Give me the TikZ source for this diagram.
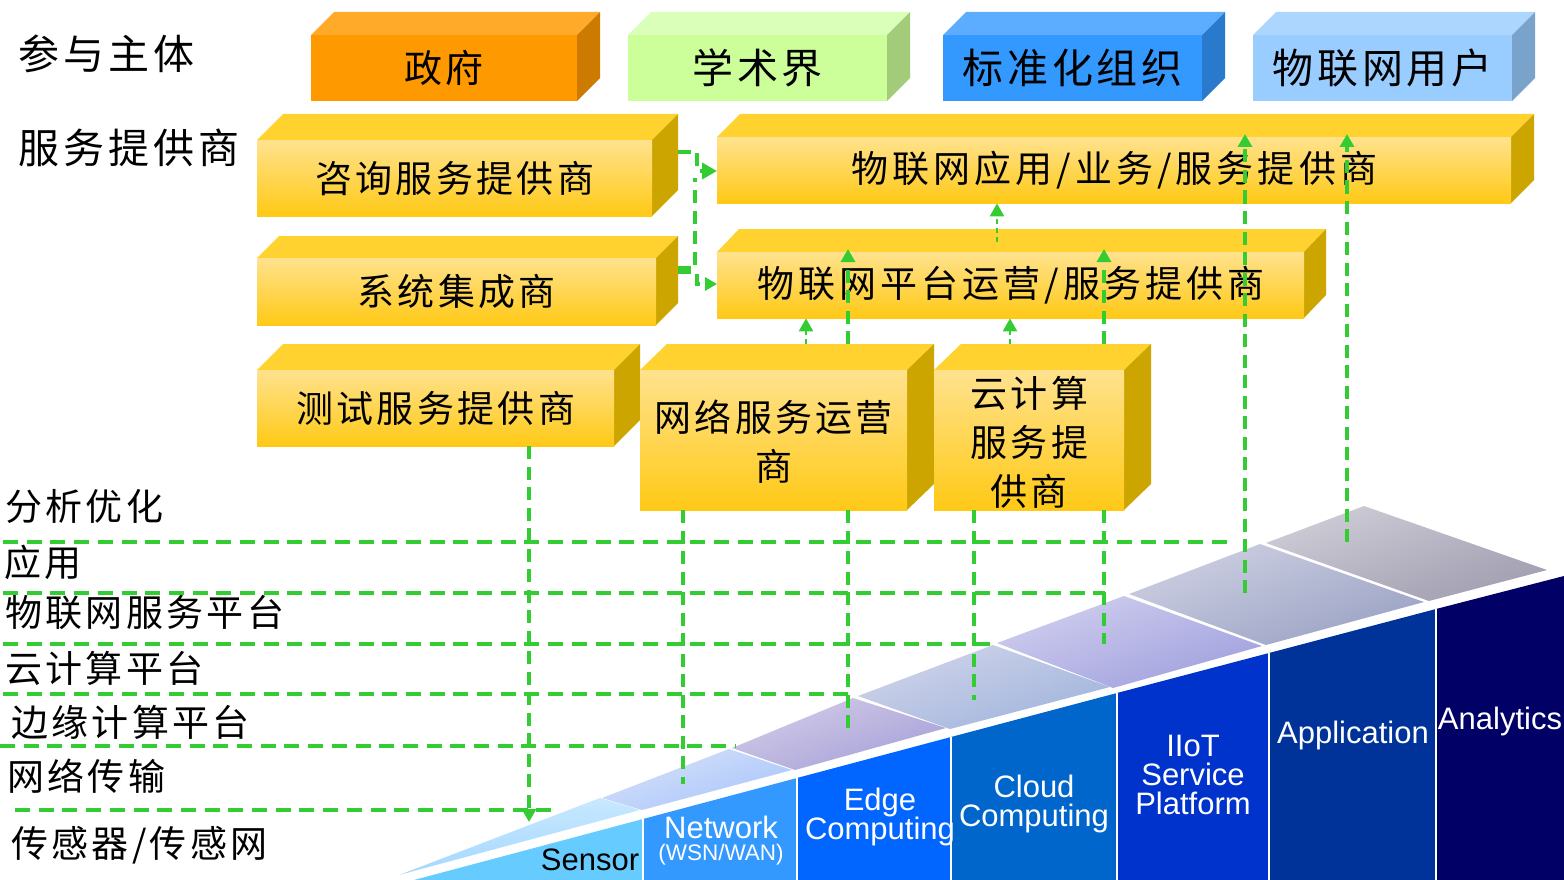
\documentclass[tikz,border=0pt]{standalone}
\usepackage{fontspec}
\usetikzlibrary{arrows.meta,calc}
\newfontfamily\cjk[LetterSpace=9]{Noto Sans CJK SC}
\newfontfamily\cjkwide[LetterSpace=10]{Noto Sans CJK SC}
\newfontfamily\cjklong[LetterSpace=11]{Noto Sans CJK SC}
\setsansfont{Liberation Sans}
\definecolor{flow}{HTML}{33CC33}
\tikzset{
  front/.style={inner sep=0pt,anchor=north west,align=center,text=black,font=\cjk\fontsize{37}{49}\selectfont},
  goldface/.style={top color=gold1,bottom color=gold2},
  longface/.style={top color=gold1,bottom color=gold2,font=\cjklong\fontsize{37}{49}\selectfont},
  rowlabel/.style={inner sep=0pt,anchor=west,font=\cjk\fontsize{37}{40}\selectfont,text=black},
  headlabel/.style={inner sep=0pt,anchor=west,font=\cjkwide\fontsize{41}{46}\selectfont,text=black},
  collabel/.style={inner sep=0pt,align=center,font=\sffamily\fontsize{31}{30}\selectfont,text=white},
  flowline/.style={draw=flow,line width=4.4pt,dash pattern=on 15pt off 8.7pt},
  riser/.style={draw=flow,line width=3.8pt,dash pattern=on 13pt off 7.5pt},
  stub/.style={draw=flow,line width=2.4pt,dash pattern=on 5pt off 4pt},
  flowtip/.style={-{Triangle[length=13pt,width=14pt]}},
  colsep/.style={draw=white,line width=1.3pt},
}
\definecolor{gold1}{HTML}{FFE28E}
\definecolor{gold2}{HTML}{FFC915}
\definecolor{goldtop}{HTML}{FFD22F}
\definecolor{goldside}{HTML}{CCA500}
% name, x1, y1, x2, y2, depth dx, depth dy, top colour, side colour, front fill style, text
\newcommand\prismbox[9]{%
  \fill[#8] (#2,#3) -- ({#2+#6},{#3-#7}) -- ({#4+#6},{#3-#7}) -- (#4,#3) -- cycle;
  \fill[#9] (#4,#3) -- ({#4+#6},{#3-#7}) -- ({#4+#6},{#5-#7}) -- (#4,#5) -- cycle;
  \coordinate (#1-top) at (#2,{#3-#7});
  \prismfront{#1}{#2}{#3}{#4}{#5}}
\newcommand\prismfront[7]{%
  \node[front,#6,minimum width={(#4-#2)*1pt},minimum height={(#5-#3)*1pt}] (#1) at (#2,#3) {#7};}
\begin{document}
\begin{tikzpicture}[x=1pt,y=-1pt]
\useasboundingbox (0,0) rectangle (1564,880);
\fill[white] (0,0) rectangle (1564,880);
\begin{scope}
\clip (0,0) rectangle (1564,880);
% perspective floor
\shade[top color={rgb,255:red,200;green,232;blue,255},bottom color={rgb,255:red,165;green,216;blue,255}] (399,875) -- (600,798) -- (640,810) -- cycle;
\shade[top color={rgb,255:red,214;green,224;blue,250},bottom color={rgb,255:red,168;green,198;blue,250},shading angle=20] (602,798) -- (729,749) -- (792,770) -- (642,810) -- cycle;
\shade[top color={rgb,255:red,212;green,204;blue,232},bottom color={rgb,255:red,164;green,160;blue,216},shading angle=20] (732,748) -- (853,698) -- (946,728) -- (795,770) -- cycle;
\shade[top color={rgb,255:red,208;green,212;blue,234},bottom color={rgb,255:red,160;green,180;blue,220},shading angle=20] (858,696) -- (993,645) -- (1110,687) -- (950,729) -- cycle;
\shade[top color={rgb,255:red,208;green,206;blue,238},bottom color={rgb,255:red,160;green,160;blue,222},shading angle=20] (997,643) -- (1124,596) -- (1262,646) -- (1113,688) -- cycle;
\shade[top color={rgb,255:red,206;green,208;blue,226},bottom color={rgb,255:red,154;green,162;blue,196},shading angle=20] (1129,594) -- (1260,544) -- (1424,602) -- (1266,645) -- cycle;
\shade[top color={rgb,255:red,206;green,204;blue,214},bottom color={rgb,255:red,160;green,158;blue,176},shading angle=20] (1266,543) -- (1364,506) -- (1547,570) -- (1429,601) -- cycle;
% columns
\fill[fill={rgb,255:red,102;green,204;blue,255}] (414,880) -- (643,819) -- (643,880) -- cycle;
\fill[fill={rgb,255:red,51;green,153;blue,255}] (643,819) -- (797,778) -- (797,880) -- (643,880) -- cycle;
\fill[fill={rgb,255:red,0;green,102;blue,255}] (797,778) -- (951,737) -- (951,880) -- (797,880) -- cycle;
\fill[fill={rgb,255:red,0;green,102;blue,204}] (951,737) -- (1117,693) -- (1117,880) -- (951,880) -- cycle;
\fill[fill={rgb,255:red,0;green,51;blue,204}] (1117,693) -- (1269,653) -- (1269,880) -- (1117,880) -- cycle;
\fill[fill={rgb,255:red,0;green,51;blue,153}] (1269,653) -- (1436,609) -- (1436,880) -- (1269,880) -- cycle;
\fill[fill={rgb,255:red,0;green,0;blue,102}] (1436,609) -- (1564,576) -- (1564,880) -- (1436,880) -- cycle;
\draw[colsep] (643,819) -- (643,880);
\draw[colsep] (797,778) -- (797,880);
\draw[colsep] (951,737) -- (951,880);
\draw[colsep] (1117,693) -- (1117,880);
\draw[colsep] (1269,653) -- (1269,880);
\draw[colsep] (1436,609) -- (1436,880);
\end{scope}
% column labels
\node[collabel,text=black] (lsensor) at (590,860) {Sensor};
\node[collabel] (lnet) at (721,827) {Network};
\node[collabel,font=\sffamily\fontsize{22.5}{22}\selectfont] (lwsn) at (721,855) {(WSN/WAN)};
\node[collabel] (ledge) at (880,817) {Edge\\[-1pt]Computing};
\node[collabel] (lcloud) at (1034,804) {Cloud\\[-1pt]Computing};
\node[collabel] (liiot) at (1193,775) {IIoT\\[-1pt]Service\\[-1pt]Platform};
\node[collabel] (lapp) at (1353,735) {Application};
\node[collabel] (lana) at (1500,721) {Analytics};
% row labels
\node[headlabel] (hplay) at (18,54) {参与主体};
\node[headlabel] (hprov) at (18,148) {服务提供商};
\node[rowlabel] (ropt) at (5,506) {分析优化};
\node[rowlabel] (rapp) at (4,562) {应用};
\node[rowlabel] (rsvc) at (5,613) {物联网服务平台};
\node[rowlabel] (rcld) at (5,668) {云计算平台};
\node[rowlabel] (redge) at (11,722) {边缘计算平台};
\node[rowlabel] (rnet) at (7,776) {网络传输};
\node[rowlabel] (rsens) at (11,845) {传感器/传感网};
% top row
\prismbox{gov}{311}{35}{577}{101}{23}{23}{fill={rgb,255:red,255;green,170;blue,40}}{fill={rgb,255:red,204;green,122;blue,0}}{fill={rgb,255:red,255;green,153;blue,0},font=\cjk\fontsize{38}{46}\selectfont}{政府}
\prismbox{acad}{628}{35}{887}{101}{23}{23}{fill={rgb,255:red,218;green,255;blue,184}}{fill={rgb,255:red,163;green,204;blue,122}}{fill={rgb,255:red,204;green,255;blue,153},font=\cjk\fontsize{41}{46}\selectfont}{学术界}
\prismbox{std}{943}{35}{1202}{101}{23}{23}{fill={rgb,255:red,92;green,173;blue,255}}{fill={rgb,255:red,41;green,122;blue,204}}{fill={rgb,255:red,51;green,153;blue,255},font=\cjk\fontsize{41}{46}\selectfont}{标准化组织}
\prismbox{users}{1253}{35}{1512}{101}{23}{23}{fill={rgb,255:red,173;green,214;blue,255}}{fill={rgb,255:red,122;green,163;blue,204}}{fill={rgb,255:red,153;green,204;blue,255},font=\cjk\fontsize{41}{46}\selectfont}{物联网用户}
% providers
\prismbox{consult}{257}{140}{652}{216}{26}{26}{goldtop}{goldside}{goldface}{咨询服务提供商}
\prismbox{app}{717}{137}{1511}{203}{23}{23}{goldtop}{goldside}{longface}{物联网应用/业务/服务提供商}
\prismbox{integ}{257}{258}{656}{325}{22}{22}{goldtop}{goldside}{goldface}{系统集成商}
\prismbox{plat}{717}{252}{1304}{318}{22}{23}{goldtop}{goldside}{longface}{物联网平台运营/服务提供商}
\prismbox{test}{257}{370}{614}{446}{26}{26}{goldtop}{goldside}{goldface}{测试服务提供商}
\prismbox{netsvc}{640}{370}{907}{510}{27}{26}{goldtop}{goldside}{goldface}{\rule{0pt}{35pt}网络服务运营\\商}
\prismbox{cloudsvc}{934}{370}{1124}{510}{27}{26}{goldtop}{goldside}{goldface}{\rule{0pt}{35pt}云计算\\服务提\\供商}
% free ends
\coordinate (h1l) at (3,542); \coordinate (h1r) at (1227,542);
\coordinate (h2l) at (3,593); \coordinate (h2r) at (1105,593);
\coordinate (h3l) at (3,644); \coordinate (h3r) at (990,644);
\coordinate (h4l) at (3,694); \coordinate (h4r) at (848,694);
\coordinate (h5l) at (0,746); \coordinate (h5r) at (736,746);
\coordinate (h6l) at (15,810); \coordinate (h6r) at (553,810);
\draw[flowline] (h1l) -- (h1r);
\draw[flowline] (h2l) -- (h2r);
\draw[flowline] (h3l) -- (h3r);
\draw[flowline] (h4l) -- (h4r);
\draw[flowline] (h5l) -- (h5r);
\draw[flowline] (h6l) -- (h6r);
% risers
\draw[riser,flowtip] (529,0 |- test.south) -- (529,822);
\draw[riser] (683,0 |- netsvc.south) -- (683,784);
\draw[riser] (848,0 |- netsvc.south) -- (848,733);
\draw[riser] (974,0 |- cloudsvc.south) -- (974,700);
\draw[riser] (1104,0 |- cloudsvc.south) -- (1104,644);
\draw[riser,flowtip] (1245,593) -- (1245,134);
\draw[riser,flowtip] (1347,542) -- (1347,134);
\draw[riser,flowtip] (848,0 |- netsvc-top) -- (848,249);
\draw[riser,flowtip] (1104,0 |- cloudsvc-top) -- (1104,249);
\draw[stub,flowtip] (806,0 |- netsvc-top) -- (806,0 |- plat.south);
\draw[stub,flowtip] (1010,0 |- cloudsvc-top) -- (1010,0 |- plat.south);
\draw[stub,flowtip] (997,242) -- (997,0 |- app.south);
% side feeds
\draw[riser,-{Triangle[length=15pt,width=16pt]}] (678,152) -- (697,152) -- (697,171) -- (app.west |- 0,171);
\draw[riser,-{Triangle[length=12pt,width=13pt]}] (678,272) -- (697,272) -- (697,284) -- (plat.west |- 0,284);
\draw[riser] (678,268) -- (695,268) -- (695,178);
\end{tikzpicture}
\end{document}
